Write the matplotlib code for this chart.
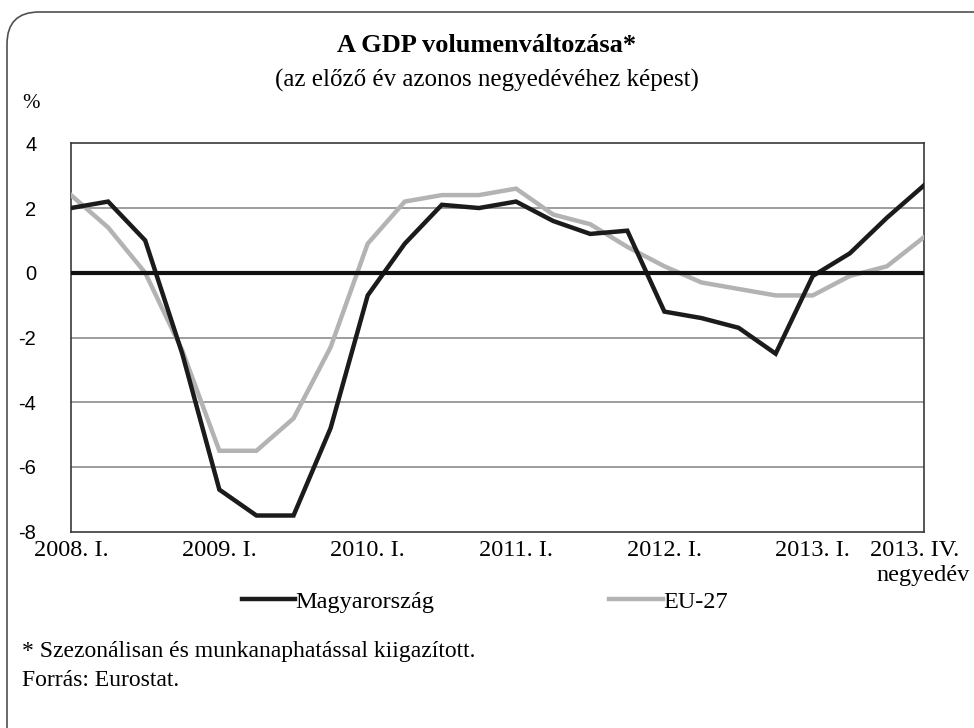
import matplotlib
matplotlib.use("Agg")
import matplotlib.pyplot as plt
from matplotlib.patches import FancyBboxPatch
from matplotlib.transforms import IdentityTransform, ScaledTranslation

# ---- data ----
quarters = list(range(24))  # 2008 Q1 .. 2013 Q4
hungary = [2.0, 2.2, 1.0, -2.5, -6.7, -7.5, -7.5, -4.8,
           -0.7, 0.9, 2.1, 2.0, 2.2, 1.6, 1.2, 1.3,
           -1.2, -1.4, -1.7, -2.5, -0.1, 0.6, 1.7, 2.7]
eu27 = [2.4, 1.4, 0.0, -2.4, -5.5, -5.5, -4.5, -2.3,
        0.9, 2.2, 2.4, 2.4, 2.6, 1.8, 1.5, 0.8,
        0.2, -0.3, -0.5, -0.7, -0.7, -0.1, 0.2, 1.1]
tick_pos = [0, 4, 8, 12, 16, 20, 23]
tick_labels = ["2008. I.", "2009. I.", "2010. I.", "2011. I.", "2012. I.", "2013. I.", "2013. IV."]
y_ticks = [4, 2, 0, -2, -4, -6, -8]
series_names = ["Magyarország", "EU-27"]

W, H = 974, 728
fig = plt.figure(figsize=(W / 100, H / 100), dpi=100)
fig.patch.set_facecolor("white")

serif = ["Liberation Serif", "DejaVu Serif"]
sans = ["Liberation Sans", "DejaVu Sans"]

# rounded outer frame (cropped on right/bottom)
frame = FancyBboxPatch((7, -40), 1040, H - 12 + 40,
                       boxstyle="round,pad=0,rounding_size=32",
                       transform=IdentityTransform(), facecolor="none",
                       edgecolor="#505050", linewidth=1.2)
fig.add_artist(frame)

L, R, T, B = 71, 924, 143.3, 531.7
ax = fig.add_axes([L / W, 1 - B / H, (R - L) / W, (B - T) / H])

ax.plot(quarters, eu27, color="#b3b3b5", lw=3.2, solid_joinstyle="miter", zorder=3, label=series_names[1])
ax.plot(quarters, hungary, color="#1c1a1b", lw=3.2, solid_joinstyle="miter", zorder=4, label=series_names[0])
ax.axhline(0, color="#111111", lw=3.0, zorder=5)

ax.set_xlim(0, 23)
ax.set_ylim(-8, 4)
ax.set_yticks(y_ticks)
ax.set_yticklabels([str(v) for v in y_ticks], family=sans, fontsize=14.5)
ax.set_xticks(tick_pos)
ax.set_xticklabels(tick_labels, family=serif, fontsize=17.5)
ax.tick_params(axis="both", length=0)
ax.tick_params(axis="y", pad=25)
ax.tick_params(axis="x", pad=6)
last = ax.get_xticklabels()[-1]
last.set_transform(last.get_transform() + ScaledTranslation(-0.09, 0, fig.dpi_scale_trans))

for v in y_ticks:
    if v not in (0, 4, -8):
        ax.axhline(v, color="#8c8c8c", lw=1.2, zorder=1)
for s in ax.spines.values():
    s.set_color("#3a3a3a")
    s.set_linewidth(1.2)

# titles
fig.text(487 / W, 1 - 46 / H, "A GDP volumenváltozása*", ha="center", va="center",
         family=serif, fontsize=19, fontweight="bold")
fig.text(487 / W, 1 - 80 / H, "(az előző év azonos negyedévéhez képest)", ha="center", va="center",
         family=serif, fontsize=18)
fig.text(22 / W, 1 - 104 / H, "%", ha="left", va="center", family=serif, fontsize=15)
fig.text(970 / W, 1 - 575 / H, "negyedév", ha="right", va="center", family=serif, fontsize=17.5)

# legend
h, l = ax.get_legend_handles_labels()
order = [1, 0]
leg = fig.legend([h[i] for i in order], [l[i] for i in order], ncol=2, loc="center left",
                 bbox_to_anchor=(242 / W, 1 - 602 / H), frameon=False,
                 prop={"family": serif, "size": 17.5}, handlelength=2.2,
                 handletextpad=0.0, columnspacing=7.2, borderaxespad=0, borderpad=0)

fig.text(22 / W, 1 - 652 / H, "* Szezonálisan és munkanaphatással kiigazított.",
         ha="left", va="center", family=serif, fontsize=17)
fig.text(22 / W, 1 - 680 / H, "Forrás: Eurostat.", ha="left", va="center", family=serif, fontsize=17)

fig.savefig("out.png", dpi=100, facecolor="white")
